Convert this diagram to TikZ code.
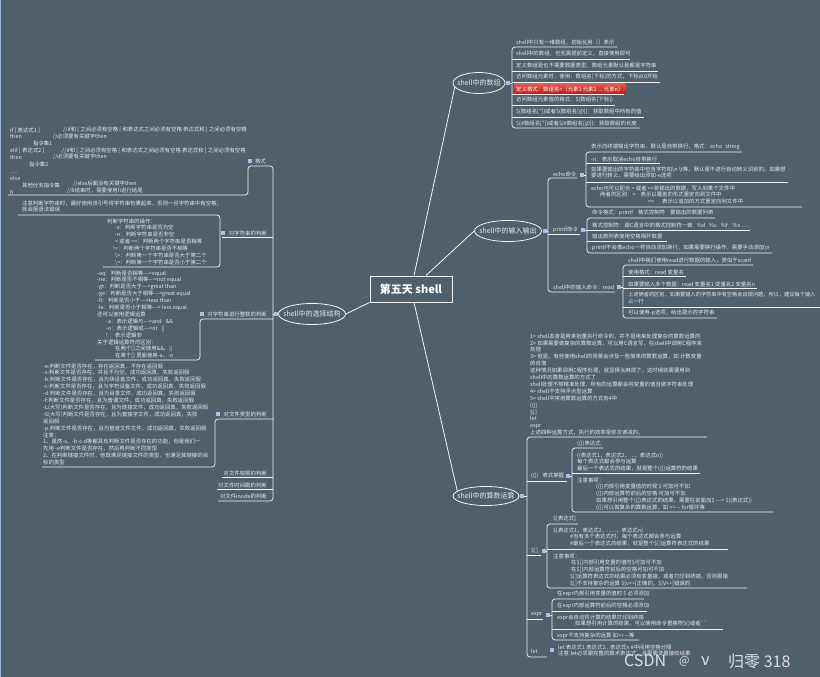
\documentclass[tikz,border=0pt]{standalone}
\usepackage{fontspec}
\setmainfont{Noto Sans CJK SC}[Ligatures=TeXOff]
\usetikzlibrary{shapes.geometric,shadings}
\definecolor{bgc}{HTML}{505F6C}
\definecolor{fgc}{HTML}{E6E9EC}
\definecolor{lnc}{HTML}{F4F4F4}
\definecolor{dotc}{HTML}{A9C1EA}
\definecolor{edgec}{HTML}{9DBBE0}
\definecolor{redtop}{HTML}{E8554C}
\definecolor{redbot}{HTML}{B3201B}
\begin{document}
\begin{tikzpicture}[x=1pt,y=-1pt,
  tx/.style={inner sep=0pt,text=fgc,font=\fontsize{5.4}{6.9}\selectfont,align=left},
  txw/.style={tx,anchor=west},
  txe/.style={tx,anchor=east},
  txm/.style={tx,anchor=north west},
  ul/.style={draw=lnc,line width=0.7pt},
  br/.style={ul,rounded corners=3pt},
  topic/.style={ellipse,draw=lnc,line width=0.8pt,inner sep=0pt},
  ttx/.style={inner sep=0pt,text=fgc,font=\fontsize{7}{8}\selectfont},
  dotm/.style={fill=dotc,minimum size=3.6pt,inner sep=0pt},
  conn/.style={draw=lnc,line width=0.8pt},
  wmk/.style={anchor=west,inner sep=0pt,text=white,opacity=0.8,font=\fontsize{16}{16}\selectfont}
]
\useasboundingbox (0,0) rectangle (820,677);
\fill[bgc] (0,0) rectangle (820,677);
\fill[edgec] (0,0) rectangle (1.2,677);

% ---------- root and main topics ----------
\node[draw=lnc,line width=1pt,minimum width=82pt,minimum height=26pt,inner sep=0pt,text=white,font=\fontsize{11}{13}\selectfont\bfseries] (root) at (411,289) {第五天 shell};

\node[topic,minimum width=52pt,minimum height=21pt] (arr) at (479,83) {};
\node[ttx] (arrT) at (arr) {shell中的数组};
\node[topic,minimum width=67pt,minimum height=21pt] (io) at (508,231) {};
\node[ttx] (ioT) at (io) {shell中的输入输出};
\node[topic,minimum width=66pt,minimum height=19pt] (ar) at (486,496) {};
\node[ttx] (arT) at (ar) {shell中的算数运算};
\node[topic,minimum width=67pt,minimum height=21pt] (sel) at (312,314) {};
\node[ttx] (selT) at (sel) {shell中的选择结构};

\draw[conn] ([xshift=3pt]root.north) -- (arr.190);
\draw[conn] ([xshift=15pt]root.north) -- (io.west);
\draw[conn] ([xshift=3pt]root.south) -- (ar.170);
\draw[conn] (root.south west) -- (sel.east);

\node[dotm] (arrD) at (508,83) {};
\node[dotm] (ioD) at (545,231) {};
\node[dotm] (arD) at (522,496) {};
\node[dotm] (selD) at (276,314) {};

% ---------- array ----------
\draw[ul] (arrD) -- (512,83);
\draw[br] (617,47) -- (512,47) -- (512,128) -- (640,128);
\foreach \yy/\ee in {59/630,71/658,82/660,94/624,105/615,117/644} \draw[ul] (512,\yy) -- (\ee,\yy);
\node[txw] (a1) at (516,42) {shell中只有一维数组，初始化用（）表示};
\node[txw] (a2) at (516,54) {shell中的数组，也无需提前定义，直接使用即可};
\node[txw] (a3) at (516,66) {定义数组是也不需要数据类型，数组元素默认是都是字符串};
\node[txw] (a4) at (516,77) {访问数组元素时，使用：数组名[下标]的方式，下标从0开始};
\node[anchor=west,inner xsep=2pt,inner ysep=0pt,minimum height=10pt,top color=redtop,bottom color=redbot,text=white,font=\fontsize{5.4}{6.9}\selectfont] (a5) at (514,89) {定义格式：数组名=（元素1 元素2 ... 元素n）};
\node[txw] (a6) at (516,100) {访问数组元素值的格式：\$\{数组名[下标]\}};
\node[txw] (a7) at (516,112) {\$\{数组名[*]\}或者\$\{数组名[@]\}：获取数组中所有的值};
\node[txw] (a8) at (516,124) {\$\{\#数组名[*]\}或者\$\{\#数组名[@]\}：获取数组的长度};

% ---------- input / output ----------
\draw[ul] (ioD) -- (548,231);
\draw[br] (577,178) -- (548,178) -- (548,292) -- (615,292);
\draw[ul] (548,234) -- (580,234);
\node[txw] (echoL) at (553,174) {echo命令};
\node[txw] (prL) at (553,230) {printf命令};
\node[txw] (rdL) at (553,287) {shell中的输入命令：read};
\node[dotm] (echoD) at (582,175) {};
\node[dotm] (prD) at (583,230) {};
\node[dotm] (rdD) at (619,287) {};

\draw[ul] (echoD) -- (586,175);
\draw[br] (742,152) -- (586,152) -- (586,207) -- (802,207);
\draw[ul] (586,163) -- (660,163);
\draw[ul] (586,182) -- (788,182);
\node[txw] (e1) at (591,147) {表示向终端输出字符串，默认是自带换行，格式：echo\hspace*{3pt}string};
\node[txw] (e2) at (591,159) {-n：表示取消echo自带换行};
\node[txm] (e3) at (591,166.3) {如果要输出的字符串中包含字符如\textbackslash n \textbackslash t等，默认是不进行自动转义识别的，如果想\\要进行转义，需要给出添加-e选项};
\node[txm] (e4) at (591,185.3) {echo也可以配合 > 或者 >>将输出的数据，写入到某个文件中\\\hspace*{9pt}两者的区别：>\hspace*{5pt}表示以覆盖的形式重定向到文件中\\\hspace*{57pt}>>\hspace*{8pt}表示以追加的方式重定向到文件中};

\draw[ul] (prD) -- (587,230);
\draw[br] (715,218) -- (587,218) -- (587,253) -- (772,253);
\draw[ul] (587,230) -- (750,230);
\draw[ul] (587,241) -- (667,241);
\node[txw] (p1) at (592,213) {命令格式：printf\hspace*{5pt}格式控制符\hspace*{5pt}要输出的数据列表};
\node[txw] (p2) at (592,225) {格式控制符：跟C语言中的格式控制符一致\hspace*{4pt}\%d\hspace*{4pt}\%c\hspace*{4pt}\%f\hspace*{5pt}\%s .....};
\node[txw] (p3) at (592,236) {输出数列表使用空格隔开数据};
\node[txw] (p4) at (592,248) {printf不会像echo一样自动添加换行，如果需要换行操作，需要手动添加\textbackslash n};

\draw[ul] (rdD) -- (623,287);
\draw[br] (753,265) -- (623,265) -- (623,318) -- (717,318);
\draw[ul] (623,276) -- (686,276);
\draw[ul] (623,288) -- (757,288);
\draw[ul] (623,307) -- (822,307);
\node[txw] (r1) at (628,261) {shell中我们使用read进行数据的输入，类似于scanf};
\node[txw] (r2) at (628,272) {使用格式：read 变量名};
\node[txw] (r3) at (628,284) {如果要输入多个数据：read 变量名1 变量名2 变量名n};
\node[txm,font=\fontsize{5.2}{6.9}\selectfont] (r4) at (628,292.3) {上述俩者的区别，如果要输入的字符串中有空格会出现问题，所以，建议每个输入\\占一行};
\node[txw] (r5) at (628,313) {可以使用-p选项，给出提示的字符串};

% ---------- arithmetic ----------
\draw[ul] (arD) -- (527,496);
\draw[br] (707,437) -- (527,437) -- (527,657) -- (547,657);
\draw[ul] (527,481) -- (567,481);
\draw[ul] (527,555) -- (541,555);
\draw[ul] (527,619) -- (543,619);
\node[txm] (arb) at (530,333.3) {1> shell本身是用来批量执行命令的，并不是用来处理复杂的算数运算的\\2> 如果需要做复杂的算数运算，可以用C语言写，在shell中调用C程序来\\处理\\3> 但是，有些使用shell的场景会涉及一些简单的算数运算，如 计数变量\\的自增\\这种情况如果调用C程序处理，就显得太麻烦了，这时候就需要用到\\shell中的算数运算的方式了\\shell处理不够精准处理，所有的运算都会将变量的值当做字符串处理\\4> shell不支持浮点型运算\\5> shell中常用算数运算的方式有4中\\(())\\\$[]\\let\\expr\\上述四种运算方式，执行的效率是依次递减的。};

\node[txw] (q1L) at (531,476) {(())\hspace*{4pt}表式掌握};
\node[dotm] (q1D) at (568,476) {};
\draw[ul] (q1D) -- (572,476);
\draw[br] (603,448) -- (572,448) -- (572,512) -- (773,512);
\draw[ul] (572,473) -- (700,473);
\node[txw] (q1a) at (577,444) {(())表达式};
\node[txm] (q1b) at (577,452.3) {((表达式1，表达式2，...，表达式n))\\每个表达式都会参与运算\\最后一个表达式的结果，就是整个(())运算符的结果};
\node[txm] (q1c) at (577,477.3) {注意事项：\\\hspace*{19pt}(())内部引用变量值的时候 \$ 可加可不加\\\hspace*{19pt}(())内部运算符前后的空格 可加可不加\\\hspace*{19pt}如果想引用整个(())表达式的结果，需要在前面加\$ ---> \$((表达式))\\\hspace*{19pt}(())可以做复杂的算数运算，如 ++ -- for循环等};

\node[txw] (q2L) at (531,551) {\$[]};
\node[dotm] (q2D) at (544,551) {};
\draw[ul] (q2D) -- (547,551);
\draw[br] (578,524) -- (547,524) -- (547,588) -- (747,588);
\draw[ul] (547,549) -- (728,549);
\node[txw] (q2a) at (553,519) {\$[表达式]};
\node[txm] (q2b) at (553,527.3) {\$[表达式1，表达式2，......，表达式n]\\\hspace*{17pt}\#当有多个表达式时，每个表达式都会参与运算\\\hspace*{17pt}\#最后一个表达式的结果，就是整个\$[]运算符表达式的结果};
\node[txm] (q2c) at (553,553.3) {注意事项：\\\hspace*{18pt}在\$[]内部引用变量的值时\$可加可不加\\\hspace*{18pt}在\$[]内部运算符前后的空格可加可不加\\\hspace*{17pt}\$[]运算符表达式的结果必须有变量接，或者打印到终端，否则报错\\\hspace*{17pt}\$[]不支持复杂的运算 \$[v++]正确的，\$[V++]错误的};

\node[txw] (q3L) at (531,615) {expr};
\node[dotm] (q3D) at (548,615) {};
\draw[ul] (q3D) -- (552,615);
\draw[br] (644,599) -- (552,599) -- (552,640) -- (639,640);
\draw[ul] (552,611) -- (647,611);
\draw[ul] (552,629) -- (723,629);
\node[txw] (q3a) at (557,594) {在expr内部引用变量的值时 \$ 必须添加};
\node[txw] (q3b) at (557,606) {在expr内部运算符前后的空格必须添加};
\node[txm] (q3c) at (557,614.3) {expr会自动将计算的结果打印到终端\\\hspace*{18pt}如果想引用计算的结果，可以使用命令置换符\$()或者\textasciigrave\textasciigrave};
\node[txw] (q3d) at (557,636) {expr不支持复杂的运算 如++ --等};

\node[txw] (q4L) at (531,651) {let};
\node[dotm] (q4D) at (552,650) {};
\node[txm] (q4a) at (558,644.3) {let 表达式1 表达式2.. 表达式n \#中间用空格分隔\\注意:let必须跟完整的算术表达式，且需要变量接收结果};

\node[wmk] (wm1) at (624,661) {CSDN};
\node[wmk,font=\fontsize{11}{11}\selectfont] (wm2) at (679,661) {@};
\node[wmk] (wm3) at (701,661) {ν};
\node[wmk] (wm4) at (728,661) {归零 318};

% ---------- selection ----------
\draw[ul] (selD) -- (273,314);
\draw[br] (8,195) -- (248,195) -- (248,166) -- (273,166) -- (273,501) -- (218,501);
\draw[ul] (273,237) -- (222,237);
\draw[br] (18,215) -- (220,215) -- (220,267) -- (103,267);
\draw[br] (273,319) -- (200,319) -- (200,360) -- (95,360);
\draw[br] (273,419) -- (215,419) -- (215,467) -- (42,467);
\draw[ul] (273,477) -- (222,477);
\draw[ul] (273,489) -- (217,489);

\node[txe] (s1) at (266,161) {格式};
\node[txe] (s2) at (267,233) {对字符串的判断};
\node[txe] (s3) at (267,314) {对字符串进行整数的判断};
\node[txe] (s4) at (267,414) {对文件类型的判断};
\node[txe] (s5) at (267,473) {对文件权限的判断};
\node[txe] (s6) at (267,485) {对文件时间戳的判断};
\node[txe] (s7) at (267,496) {对文件inode的判断};
\node[dotm] (s1D) at (250,161) {};
\node[dotm] (s2D) at (223,233) {};
\node[dotm] (s3D) at (202,314) {};
\node[dotm] (s4D) at (218,414) {};

\node[txm] (ifb) at (10,127.3) {if [ 表达式1 ]\\then\\\hspace*{23pt}指令集1\\elif [ 表达式2 ]\\then\\\hspace*{19pt}指令集2\\.....\\else\\\hspace*{12pt}其他分支指令集\\fi};
\node[txw] (c1) at (63,130) {//if和 [ 之间必须有空格 [ 和表达式之间必须有空格 表达式和 ] 之间必须有空格};
\node[txw] (c2) at (53,137) {//必须要有关键字then};
\node[txw] (c3) at (62,151) {//if和 [ 之间必须有空格 [ 和表达式之间必须有空格 表达式和 ] 之间必须有空格};
\node[txw] (c4) at (53,157) {//必须要有关键字then};
\node[txw] (c5) at (73,184) {//else后面没有关键字then};
\node[txw] (c6) at (67,191) {//fi结束时，需要使用fi进行结尾};

\node[txm] (note1) at (22,200.3) {注意判断字符串时，最好使用双引号将字符串包裹起来，否则一旦字符串中有空格，\\就会报语法错误};

\node[txm] (strb) at (107,218.3) {判断字符串的操作：\\\hspace*{8pt}-z：判断字符串是否为空\\\hspace*{8pt}-n：判断字符串是否非空\\\hspace*{8pt}= 或者 ==：判断两个字符串是否相等\\\hspace*{6pt}!=：判断两个字符串是否不相等\\\hspace*{8pt}\textbackslash>：判断第一个字符串是否大于第二个\\\hspace*{8pt}\textbackslash<：判断第一个字符串是否小于第二个};

\node[txm] (intb) at (97,270.3) {-eq：判断是否相等--->equal\\-ne：判断是否不相等--->not equal\\-gt：判断是否大于--->great than\\-ge：判断是否大于相等--->great equal\\-lt：判断是否小于--->less than\\-le：判断是否小于相等---> less equal\\还可以使用逻辑运算\\\hspace*{9pt}-a：表示逻辑与--->and\hspace*{4pt}\&\&\\\hspace*{9pt}-o：表示逻辑或--->or\hspace*{4pt}||\\\hspace*{9pt}! ：表示逻辑非\\关于逻辑运算符的区别：\\\hspace*{18pt}在两个[]之间使用\&\&、||\\\hspace*{18pt}在某个[] 里面使用-a、-o};

\node[txm] (fileb) at (43,363.3) {-e:判断文件是否存在，存在返回真，不存在返回假\\-s:判断文件是否存在，并且不为空，成功返回真，失败返回假\\-b:判断文件是否存在，且为块设备文件，成功返回真，失败返回假\\-c:判断文件是否存在，且为字符设备文件，成功返回真，失败返回假\\-d:判断文件是否存在，且为目录文件，成功返回真，失败返回假\\-f:判断文件是否存在，且为普通文件，成功返回真，失败返回假\\-L(大写)判断文件是否存在，且为链接文件，成功返回真，失败返回假\\-S(大写)判断文件是否存在，且为套接字文件，成功返回真，失败\\返回假\\-p:判断文件是否存在，且为管道文件文件，成功返回真，失败返回假\\注意：\\1、虽然-s、-b-c-d等都具有判断文件是否存在的功能，但是我们一\\先用 -e判断文件是否存在，然后再判断不同类型\\2、在判断链接文件时，他既满足链接文件的类型，也满足其链接的目\\标的类型};
\end{tikzpicture}
\end{document}
